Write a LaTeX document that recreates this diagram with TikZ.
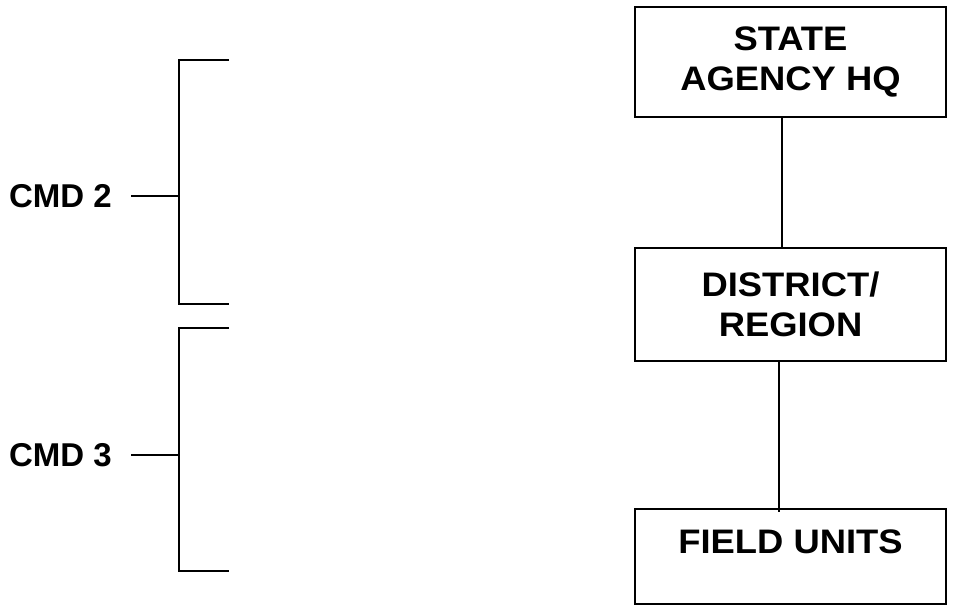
\documentclass[tikz,border=0pt]{standalone}
\usepackage{fontspec}
\setmainfont{Liberation Sans}
\newfontfamily\unitfont{Liberation Sans}[FakeStretch=1.07]
\usetikzlibrary{positioning,calc}

\begin{document}
\begin{tikzpicture}[x=1pt,y=1pt,
				unit/.style={draw,rectangle,line width=1.6pt,minimum width=311pt,inner sep=0pt,align=center,
					font=\unitfont\bfseries\fontsize{34}{40}\selectfont},
				cmd/.style={inner sep=0pt,anchor=east,font=\bfseries\fontsize{33}{38}\selectfont},
				link/.style={line width=1.2pt},
				brace/.style={line width=1.5pt}]
				\useasboundingbox (0,0) rectangle (953,605);
				\node (HQ)       [unit,minimum height=110pt] at (790.5,543)   {STATE\\AGENCY HQ};
				\node (DISTRICT) [unit,minimum height=113pt] at (790.5,300.5) {DISTRICT/\\REGION};
				\node (FIELD)    [unit,minimum height=95pt,text depth=29pt] at (790.5,48.5) {FIELD UNITS};
				
				\draw[link] ([xshift=-8.5pt]HQ.south) -- ([xshift=-8.5pt]HQ.south |- DISTRICT.north);
				\draw[link] ([xshift=-11.5pt]DISTRICT.south) -- ($([xshift=-11.5pt]DISTRICT.south |- FIELD.north)+(0,-4)$);
				
				\node (CMD2) [cmd] at (112,409) {CMD 2};
				\node (CMD3) [cmd] at (112,150) {CMD 3};
				\coordinate (B2N) at (179,545);
				\coordinate (B2S) at (179,301);
				\coordinate (B3N) at (179,277);
				\coordinate (B3S) at (179,34);
				
				\draw[brace] ($(B2N)+(50,0)$) -- (B2N) -- (B2S) -- ++(50,0);
				\draw[brace] ($(B3N)+(50,0)$) -- (B3N) -- (B3S) -- ++(50,0);
				\draw[brace] ([xshift=19pt]CMD2.east) -- (CMD2.east -| B2N);
				\draw[brace] ([xshift=19pt]CMD3.east) -- (CMD3.east -| B3N);
			\end{tikzpicture}
\end{document}
